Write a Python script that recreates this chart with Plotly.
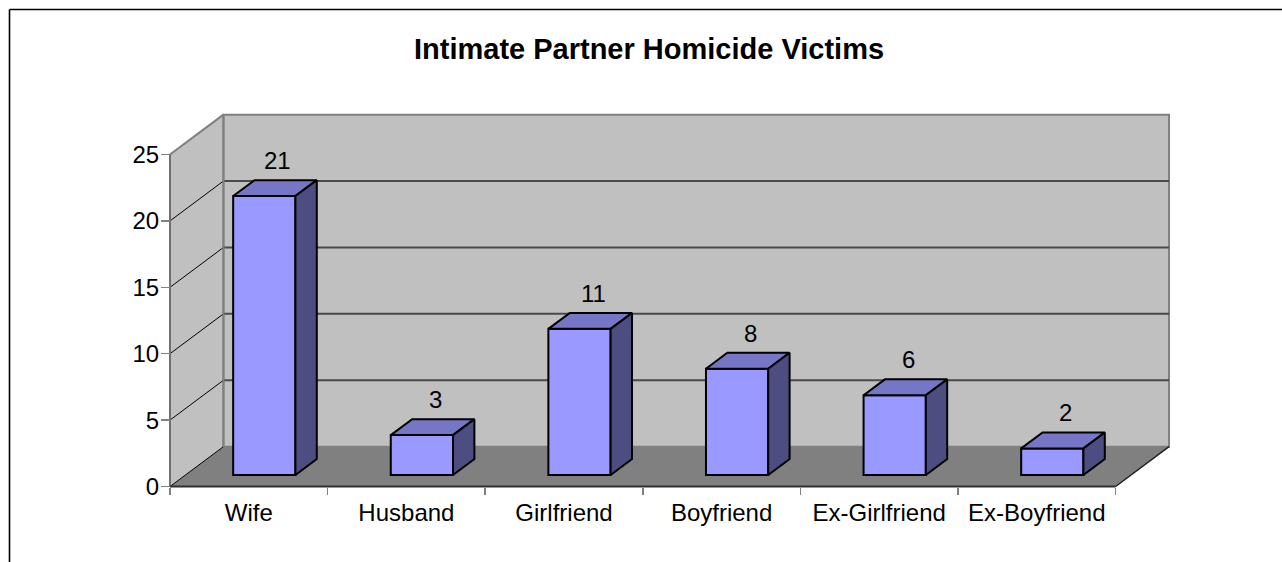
import plotly.graph_objects as go

# ---------------- data ----------------
categories = ["Wife", "Husband", "Girlfriend", "Boyfriend", "Ex-Girlfriend", "Ex-Boyfriend"]
victims = [21, 3, 11, 8, 6, 2]
y_tick_values = [0, 5, 10, 15, 20, 25]
chart_title = "Intimate Partner Homicide Victims"

# ---------------- geometry / style ----------------
W_FIG, H_FIG = 1282, 562
SX, SY = 157.6, 13.28          # px per data unit
X0PX, Y0PX = 170.0, 486.5      # pixel of (x=-0.5, y=0) front corner
DX, DY = 0.339, 3.0            # depth vector in data units
F0, F1 = 0.29, 0.69            # bar front/back depth fractions
BAR_W = 0.395
YTOP = 25
ML, MT, MR, MB = 163, 108, 106, 69

xmin = -0.5 - (X0PX - ML) / SX
xmax = -0.5 + (W_FIG - MR - X0PX) / SX
ymax = (Y0PX - MT) / SY
ymin = -(H_FIG - MB - Y0PX) / SY
PW = W_FIG - ML - MR
PH = H_FIG - MT - MB

FONT = "Liberation Sans, Arial, sans-serif"
FRONT = "#9999FF"
TOP = "#7676C6"
SIDE = "#4D4D82"
WALL = "#C0C0C0"
FLOOR = "#808080"

n = len(categories)
xl_wall, xr_wall = -0.5, n - 0.5

shapes = []
# left side wall
shapes.append(dict(type="path", layer="below", xref="x", yref="y",
                   path=f"M {xl_wall},0 L {xl_wall},{YTOP} L {xl_wall+DX},{YTOP+DY} L {xl_wall+DX},{DY} Z",
                   fillcolor=WALL, line=dict(width=0)))
# back wall
shapes.append(dict(type="rect", layer="below", xref="x", yref="y",
                   x0=xl_wall+DX, x1=xr_wall+DX, y0=DY, y1=YTOP+DY,
                   fillcolor=WALL, line=dict(color="#808080", width=2)))
# floor
shapes.append(dict(type="path", layer="below", xref="x", yref="y",
                   path=f"M {xl_wall},0 L {xr_wall},0 L {xr_wall+DX},{DY} L {xl_wall+DX},{DY} Z",
                   fillcolor=FLOOR, line=dict(width=0)))
# gridlines on back wall and left wall
for v in y_tick_values:
    if 0 < v < YTOP:
        shapes.append(dict(type="line", layer="below", xref="x", yref="y",
                           x0=xl_wall+DX, x1=xr_wall+DX, y0=v+DY, y1=v+DY,
                           line=dict(color="#4a4a4a", width=2)))
    if v < YTOP:
        shapes.append(dict(type="line", layer="below", xref="x", yref="y",
                           x0=xl_wall, x1=xl_wall+DX, y0=v, y1=v+DY,
                           line=dict(color="#000000", width=1)))
# left wall top edge
shapes.append(dict(type="line", layer="below", xref="x", yref="y",
                   x0=xl_wall, x1=xl_wall+DX, y0=YTOP, y1=YTOP+DY,
                   line=dict(color="#808080", width=2)))
# back wall left edge redraw
shapes.append(dict(type="line", layer="below", xref="x", yref="y",
                   x0=xl_wall+DX, x1=xl_wall+DX, y0=DY, y1=YTOP+DY,
                   line=dict(color="#808080", width=2)))
# front value axis line
shapes.append(dict(type="line", layer="below", xref="x", yref="y",
                   x0=xl_wall, x1=xl_wall, y0=0, y1=YTOP,
                   line=dict(color="#707070", width=2)))
# floor front & right edges
shapes.append(dict(type="line", layer="below", xref="x", yref="y",
                   x0=xl_wall, x1=xr_wall, y0=0, y1=0,
                   line=dict(color="#303030", width=2)))
shapes.append(dict(type="line", layer="below", xref="x", yref="y",
                   x0=xr_wall, x1=xr_wall+DX, y0=0, y1=DY,
                   line=dict(color="#202020", width=1.5)))

# outer chart border (pixel-positioned, in paper units)
def px_x(px):
    return (px - ML) / PW

def px_y(py):
    return (MT + PH - py) / PH

shapes.append(dict(type="line", xref="paper", yref="paper",
                   x0=px_x(9.5), x1=px_x(1290), y0=px_y(9.5), y1=px_y(9.5),
                   line=dict(color="#000000", width=1.6)))
shapes.append(dict(type="line", xref="paper", yref="paper",
                   x0=px_x(9.5), x1=px_x(9.5), y0=px_y(9.5), y1=px_y(570),
                   line=dict(color="#000000", width=1.6)))

fig = go.Figure()

b0 = DY * F0
fx = DX * F0
ddx = DX * (F1 - F0)
ddy = DY * (F1 - F0)
xs_front = [i + fx for i in range(n)]

# front faces via bars
fig.add_trace(go.Bar(x=xs_front, y=victims, base=[b0] * n, width=BAR_W,
                     marker=dict(color=FRONT, line=dict(color="#000000", width=2)),
                     hoverinfo="skip", showlegend=False))

annotations = []
for i, v in enumerate(victims):
    xl = xs_front[i] - BAR_W / 2
    xr = xs_front[i] + BAR_W / 2
    yt = v + b0
    # top face
    fig.add_trace(go.Scatter(x=[xl, xr, xr + ddx, xl + ddx, xl],
                             y=[yt, yt, yt + ddy, yt + ddy, yt],
                             mode="lines", fill="toself", fillcolor=TOP,
                             line=dict(color="#000000", width=2),
                             hoverinfo="skip", showlegend=False))
    # side face
    fig.add_trace(go.Scatter(x=[xr, xr, xr + ddx, xr + ddx, xr],
                             y=[b0, yt, yt + ddy, b0 + ddy, b0],
                             mode="lines", fill="toself", fillcolor=SIDE,
                             line=dict(color="#000000", width=2),
                             hoverinfo="skip", showlegend=False))
    annotations.append(dict(x=xs_front[i] + ddx / 2, y=yt + ddy, xref="x", yref="y",
                            text=str(v), showarrow=False, yanchor="bottom",
                            yshift=4, xshift=3,
                            font=dict(family=FONT, size=24, color="#000000")))

annotations.append(dict(x=px_x(648.5), y=px_y(49), xref="paper", yref="paper",
                        text=f"<b>{chart_title}</b>", showarrow=False,
                        xanchor="center", yanchor="middle",
                        font=dict(family=FONT, size=29, color="#000000")))

fig.update_layout(
    template="none",
    width=W_FIG, height=H_FIG,
    margin=dict(l=ML, r=MR, t=MT, b=MB, autoexpand=False),
    paper_bgcolor="#FFFFFF", plot_bgcolor="rgba(0,0,0,0)",
    shapes=shapes, annotations=annotations,
    showlegend=False,
    bargap=0,
    xaxis=dict(range=[xmin, xmax], anchor="free", position=(0 - ymin) / (ymax - ymin),
               showgrid=False, zeroline=False, showline=False,
               tickmode="array", tickvals=list(range(n)), ticktext=categories,
               ticks="", ticklabelstandoff=9,
               tickfont=dict(family=FONT, size=24, color="#000000"),
               minor=dict(tickmode="linear", tick0=-0.5, dtick=1, ticks="outside",
                          ticklen=7, tickwidth=1.5, tickcolor="#808080", showgrid=False),
               automargin=False, fixedrange=True),
    yaxis=dict(range=[ymin, ymax], anchor="free", position=(-0.5 - xmin) / (xmax - xmin),
               showgrid=False, zeroline=False, showline=False,
               tickmode="array", tickvals=y_tick_values,
               ticks="outside", ticklen=9, tickwidth=1.5, tickcolor="#808080",
               ticklabelstandoff=-3,
               tickfont=dict(family=FONT, size=24, color="#000000"),
               automargin=False, fixedrange=True),
)

fig.write_html("out.html",
               config={"displayModeBar": False, "staticPlot": True},
               post_script="document.body.style.margin='0';document.body.style.overflow='hidden';")
